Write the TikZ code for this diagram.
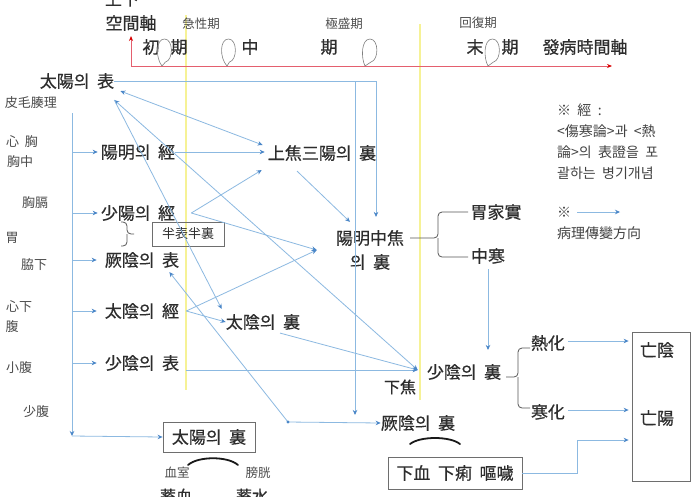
\documentclass[tikz,border=0pt]{standalone}
\usepackage{fontspec}
\setmainfont{Noto Sans CJK KR}[WordSpace=2]
\newfontfamily\heavyfont{Noto Sans CJK KR}[WordSpace=2,FakeBold=0.5]
\usetikzlibrary{arrows.meta,calc}
\definecolor{lnblue}{RGB}{140,185,225}
\definecolor{tipblue}{RGB}{75,135,200}
\definecolor{axred}{RGB}{228,95,110}
\definecolor{ylw}{RGB}{246,242,150}
\definecolor{txt}{RGB}{45,45,45}
\definecolor{boxgray}{RGB}{110,110,110}
\tikzset{
 conn/.style={draw=lnblue, line width=0.8pt},
 arr/.style={conn, -{Stealth[length=5pt,width=4.5pt,color=tipblue]}},
 barr/.style={conn, {Stealth[length=5pt,width=4.5pt,color=tipblue]}-{Stealth[length=5pt,width=4.5pt,color=tipblue]}},
 mainlbl/.style={inner sep=0pt, text=txt, font=\heavyfont\fontsize{17}{20}\selectfont},
 sidelbl/.style={inner sep=0pt, text=txt!85, font=\fontsize{13}{15}\selectfont},
 tinylbl/.style={inner sep=0pt, text=txt!85, font=\fontsize{12.5}{14}\selectfont},
 leglbl/.style={inner sep=0pt, text=txt!90, font=\fontsize{14}{21}\selectfont},
 boxed/.style={draw=boxgray, line width=0.8pt},
 bracepath/.style={draw=txt!80, line width=0.8pt, rounded corners=4pt},
 balloon/.style={draw=gray, line width=0.6pt},
 redaxis/.style={draw=axred, line width=1pt, -{Stealth[length=5pt,width=4pt,color=red!85!black]}},
 yline/.style={draw=ylw, line width=1.2pt},
 arcmark/.style={draw=black!90, line width=1.8pt, line cap=round},
}
\newcommand{\mybln}[2]{\draw[balloon] (#2,66) .. controls ({#1-9},58) and ({#1-9},39) .. (#1,39) .. controls ({#1+9},39) and ({#1+9},60) .. ({#1+1},62) -- cycle;}
\begin{document}
\begin{tikzpicture}[x=1pt,y=-1pt]
\useasboundingbox (0,0) rectangle (692,496);
\fill[white] (0,0) rectangle (692,496);
% yellow period lines
\draw[yline] (186,15) -- (186,390);
\draw[yline] (420,24) -- (420,400);
% axes
\node[mainlbl] (ud) at (122,-1) {上下};
\node[mainlbl] (space) at (131,23) {空間軸};
\coordinate (org) at (131,66);
\coordinate (uptop) at (131,36);
\coordinate (tend) at (612,66);
\draw[redaxis] (org) -- (uptop);
\draw[redaxis] (org) -- (tend);
\node[tinylbl] (acute) at (201,24) {急性期};
\node[tinylbl] (peak) at (344,24) {極盛期};
\node[tinylbl] (recov) at (478,23) {回復期};
\node[mainlbl] (e1) at (151,47) {初};
\node[mainlbl] (e2) at (179,47) {期};
\node[mainlbl] (m1) at (250,47) {中};
\node[mainlbl] (m2) at (329,47) {期};
\node[mainlbl] (l1) at (475,47) {末};
\node[mainlbl] (l2) at (510,47) {期};
\node[mainlbl] (timeax) at (585,47) {發病時間軸};
\mybln{164.5}{162}
\mybln{228.5}{227}
\mybln{370}{365}
\mybln{492.5}{488}
% left labels
\node[sidelbl] (s1) at (31,103) {皮毛腠理};
\node[sidelbl] (s2) at (22,142) {心 胸};
\node[sidelbl] (s3) at (20,162) {胸中};
\node[sidelbl] (s4) at (35,203) {胸膈};
\node[sidelbl] (s5) at (12,238) {胃};
\node[sidelbl] (s6) at (34,265) {脇下};
\node[sidelbl] (s7) at (19,307) {心下};
\node[sidelbl] (s8) at (12,327) {腹};
\node[sidelbl] (s9) at (19,368) {小腹};
\node[sidelbl] (s10) at (36,412) {少腹};
% main nodes
\node[mainlbl] (typ) at (77,81) {太陽의 表};
\node[mainlbl] (ymg) at (138,152) {陽明의 經};
\node[mainlbl] (syg) at (138,213) {少陽의 經};
\node[mainlbl] (kp) at (142,260) {厥陰의 表};
\node[mainlbl] (tyg) at (142,311) {太陰의 經};
\node[mainlbl] (sp) at (142,363) {少陰의 表};
\node[mainlbl] (sjy) at (322,153) {上焦三陽의 裏};
\node[mainlbl] (ymjc) at (370,238) {陽明中焦};
\node[mainlbl] (ymjc2) at (370,262) {의 裏};
\node[mainlbl] (gj) at (496,212) {胃家實};
\node[mainlbl] (zh) at (488,256) {中寒};
\node[mainlbl] (tyl) at (263,322) {太陰의 裏};
\node[mainlbl] (syl) at (464,372) {少陰의 裏};
\node[inner sep=0pt, text=txt, font=\heavyfont\fontsize{16}{18}\selectfont] (xj) at (400,387) {下焦};
\node[mainlbl] (rh) at (548,343) {熱化};
\node[mainlbl] (hh) at (548,412) {寒化};
\node[boxed, minimum width=58pt, minimum height=149pt, inner sep=0pt] (bigbox) at (661,406.5) {};
\node[mainlbl] (mu) at (657,350) {亡陰};
\node[mainlbl] (my) at (657,418) {亡陽};
\node[mainlbl] (kyl) at (418,423) {厥陰의 裏};
\node[boxed, mainlbl, minimum width=92pt, minimum height=30pt] (tyr) at (209,437) {太陽의 裏};
\node[boxed, mainlbl, minimum width=134pt, minimum height=32pt] (hx) at (455,473) {下血 下痢 嘔噦};
\node[boxed, inner sep=0pt, text=txt, font=\fontsize{13}{15}\selectfont, minimum width=72pt, minimum height=24pt] (bhb) at (188,234) {半表半裏};
\node[tinylbl] (xs) at (177,473) {血室};
\node[tinylbl] (pg) at (258,473) {膀胱};
\node[inner sep=0pt, text=txt, font=\heavyfont\fontsize{16}{18}\selectfont] (xx) at (176,496) {蓄血};
\node[inner sep=0pt, text=txt, font=\heavyfont\fontsize{16}{18}\selectfont] (xw) at (252,496) {蓄水};
% legend
\node[leglbl, anchor=west, align=left] (lgd) at (557,141.5) {※ 經 :\\<傷寒論>과 <熱\\論>의 表證을 포\\괄하는 병기개념};
\node[leglbl, anchor=west] (lgs) at (557,212) {※};
\coordinate (lge) at (620,212);
\draw[arr] ([xshift=6pt]lgs.east) -- (lge);
\node[leglbl, anchor=west] (lgt) at (557,233) {病理傳變方向};
% left spine
\coordinate (lt) at (72,113);
\coordinate (lb) at (72,436);
\draw[arr] (lt) -- (lb);
\draw[arr] (lb) -- (tyr.west);
\draw[arr, shorten >=3pt] (lt |- ymg.west) -- (ymg.west);
\draw[arr, shorten >=3pt] (lt |- syg.west) -- (syg.west);
\draw[arr, shorten >=8pt] (lt |- kp.west) -- (kp.west);
\draw[arr, shorten >=8pt] (lt |- tyg.west) -- (tyg.west);
\draw[arr, shorten >=8pt] (lt |- sp.west) -- (sp.west);
% top route
\draw[arr] (typ.east) -| ([xshift=6pt,yshift=13pt]ymjc.north);
\coordinate (jv) at (355,81);
\draw[arr] (jv) -- (jv |- kyl.north);
\coordinate (kjdot) at (288,422);
\draw[arr] (kjdot) -- (kyl.west);
\draw[arr] (kjdot) -- ([xshift=-10pt,yshift=-4pt]kp.south east);
\fill[tipblue] (kjdot) circle (1.6pt);
% from taiyang exterior
\coordinate (sylin) at ([xshift=-9pt,yshift=2pt]syl.west);
\draw[barr] ([xshift=6pt,yshift=-2pt]typ.south east) -- ([xshift=-5pt,yshift=8pt]sjy.west);
\draw[barr] ([yshift=-11pt]typ.south east) -- (sylin);
\draw[arr] ([yshift=-11pt]typ.south east) -- ([xshift=-4pt,yshift=5pt]tyl.north west);
% into upper jiao / middle jiao
\draw[arr, shorten >=3pt] (ymg.east) -- (ymg.east -| sjy.west);
\coordinate (sygo) at ([xshift=16pt]syg.east);
\draw[arr] (sygo) -- ([xshift=-6pt,yshift=-9pt]sjy.south west);
\coordinate (ymin) at ([xshift=-19pt,yshift=-12pt]ymjc.west);
\draw[arr] (sygo) -- (ymin);
\coordinate (tygo) at ([xshift=7pt]tyg.east);
\draw[arr] (tygo) -- (ymin);
\draw[arr] (tygo) -- (tyl.west);
\draw[arr] ([xshift=-25pt,yshift=-10pt]sjy.south) -- ([xshift=-20pt,yshift=8pt]ymjc.north);
% into shaoyin interior
\coordinate (spo) at ([xshift=7pt]sp.east);
\draw[arr] (spo |- sylin) -- (sylin);
\draw[arr] ([xshift=17pt,yshift=-3pt]tyl.south) -- (sylin);
\draw[arr, shorten <=5pt, shorten >=14pt] (zh.south) -- (zh.south |- syl.north);
% to the outcome box
\draw[arr, shorten >=3pt] ([xshift=3pt,yshift=2pt]rh.east) -- ([yshift=2pt]rh.east -| bigbox.west);
\draw[arr, shorten >=3pt] ([xshift=3pt,yshift=2pt]hh.east) -- ([yshift=2pt]hh.east -| bigbox.west);
\coordinate (hxc) at (577,440);
\draw[arr, shorten >=3pt] (hx.east) -| (hxc) -- (hxc -| bigbox.west);
% braces
\draw[bracepath] (121,222) -| (127,234) -- (134,234);
\draw[bracepath] (121,246) -| (127,234);
\draw[bracepath] (468,212) -- (438,212) -- (438,238) -- (410,238);
\draw[bracepath] (468,257) -- (438,257) -- (438,238);
\draw[bracepath] (530,348) -- (518,348) -- (518,377) -- (506,377);
\draw[bracepath] (530,408) -- (518,408) -- (518,377);
% arcs
\draw[arcmark] (188,465) .. controls (198,456) and (228,456) .. (238,465);
\draw[arcmark] (410,444) .. controls (420,436) and (450,436) .. (460,444);
\end{tikzpicture}
\end{document}
